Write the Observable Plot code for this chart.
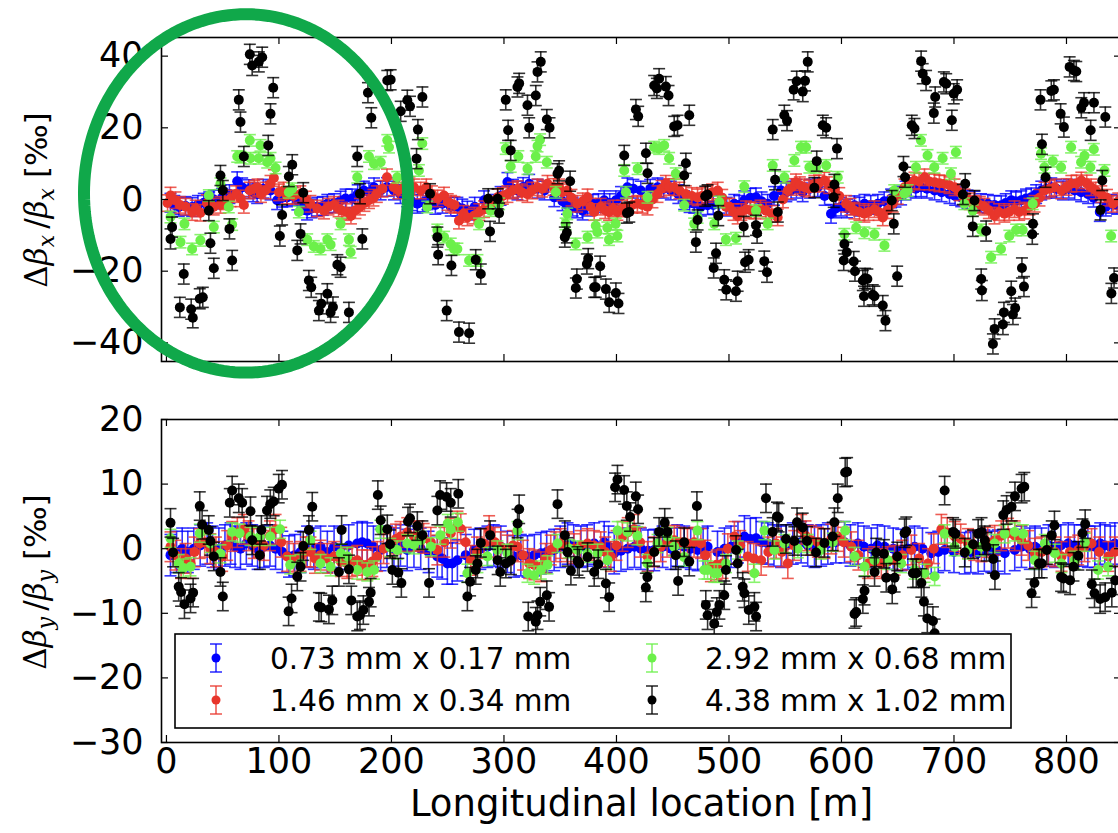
<!DOCTYPE html>
<html><head><meta charset="utf-8">
<script src="https://cdn.jsdelivr.net/npm/d3@7"></script>
<script src="https://cdn.jsdelivr.net/npm/@observablehq/plot@0.6"></script>
<style>
html,body{margin:0;padding:0;background:#fff;overflow:hidden;width:1118px;height:833px;}
#wrap{position:relative;width:1118px;height:833px;overflow:hidden;background:#fff;}
#topPanel,#botPanel{position:absolute;left:0;width:1122px;}
#topPanel{top:0;} #botPanel{top:390px;}
</style></head>
<body><div id="wrap"><div id="topPanel"></div><div id="botPanel"></div></div>
<script>
// ---------- data ----------
const seriesLabels = ["0.73 mm x 0.17 mm", "1.46 mm x 0.34 mm", "2.92 mm x 0.68 mm", "4.38 mm x 1.02 mm"];
const seriesColors = ["#0000ff", "#e8352b", "#6cf04a", "#000000"];
const xTicks = [0, 100, 200, 300, 400, 500, 600, 700, 800];
const yTicksTop = [-40, -20, 0, 20, 40];
const yTicksBottom = [-30, -20, -10, 0, 10, 20];
const errTop = [2.6, 2.3, 1.6, 2.8];      // half-length of error bars (‰), per series
const errBottom = [3.2, 2.3, 1.4, 2.2];

// horizontal plane, [location m, Δβx/βx ‰]
const blueX = [[3.6,-0.9],[7,-1.5],[11,-2.1],[17,-1.8],[22.8,-2.1],[28,-1.5],[33.2,-0.9],[38,-0.5],[42.1,0],[49.5,0.5],[56,1.5],[62.9,5.1],[67.3,3.4],[73.2,2.9],[77,2],[80.6,1.5],[86,3],[92.5,2.5],[98.4,-0.2],[103,0.5],[107.2,0.6],[112,1],[116.3,-0.3],[121,-1.5],[125,-3.1],[129,-2.5],[134,-2],[139,-1.8],[143,-1.2],[149,-1],[154.8,-0.3],[159.2,0.3],[165,0.3],[170,1.5],[175.5,2.5],[180,2],[184.5,3.4],[190.4,2.5],[196,3.5],[202.2,2.5],[208,1.5],[214,0.6],[218,-0.5],[223,-1.2],[228,-0.8],[232,-0.2],[239,-1.5],[245.3,-1.2],[252.7,-2],[258.6,-2],[263,-2.5],[267.5,-3.1],[274,-2],[282.3,-0.2],[291.2,-1.2],[297,1],[303.1,4.9],[308,3],[312,2.5],[317,3.5],[322.4,4.4],[330,3],[336,2.5],[344.7,0.6],[352,-0.5],[356,-1.5],[361,-2],[365,-2.5],[370,-3.1],[374,-2],[379,-1.2],[384,-1],[389.1,-0.2],[394,-1],[399.5,-0.2],[404,1],[409.7,3.4],[415,3],[421.6,2.5],[430,3],[436.5,3.4],[442,3],[448.3,2.5],[455,1.5],[460.2,-0.2],[465,-1],[469.1,-1.2],[475,-2],[481,-1.6],[486,-1.5],[491.4,-1.2],[498,-2],[504.7,-1.2],[509,-1.5],[513.6,-0.2],[519,0.5],[524,0.6],[529,-0.5],[534.4,-1.2],[540,1],[546.3,2.5],[551,2],[555.2,2.5],[560,3],[565.5,2],[572,3],[578.9,3.4],[585,1],[590.7,-4],[595,-2.5],[599.6,-2],[605,-2.5],[611.5,-1.6],[616,-2],[620.4,-1.2],[626,-1.5],[632.3,-1.2],[638,-0.5],[644.1,0.3],[648,0.5],[653,1.1],[657,2.5],[661.9,3.4],[666,3],[670.8,3.4],[676,3],[682.7,2.5],[689,2],[696,1.5],[701,1],[706.4,0.6],[712,0],[718.2,-0.3],[724,-1],[730.1,-1.2],[736,-1.5],[742,-1.6],[746,-1],[750.9,-0.2],[755,-0.5],[759.8,-0.2],[764,0.3],[768.7,0.6],[773,1.5],[777.6,2.5],[782,3],[786.5,3.4],[791,3],[796.9,2.5],[802,3],[807.3,2.5],[813,2],[819.2,1.5],[824,0.5],[829.6,-3.5],[835,-2],[840,-1.2],[845,-1.5]];
const redX = [[1,-1],[3.6,1.1],[8,-0.2],[12,-1.5],[17,-2],[22.8,-3.5],[26,-2.5],[30.2,-3.7],[36,-1],[42,-2],[48,-1.5],[52,-0.5],[57,0.3],[62,1.5],[66,0.3],[68.8,-1.5],[74.1,2.5],[78,3],[81,3.4],[84,1.5],[88,2.5],[92.5,4.4],[95.5,6],[100,2],[104,2.5],[107,1.1],[113,1],[119,1.5],[124,0],[128,-1.2],[134,-2.5],[140,-3.1],[144,-2],[149,-1.5],[153,-2.5],[156,-3.1],[160,-3.5],[164,-4.5],[168,-3],[172,-2],[176,-1],[180,-0.2],[184,0.5],[187,1.5],[192,3],[196,6.2],[202,3.4],[206,2.5],[211,3.4],[216,4],[220,3.4],[226,2.5],[231,3.4],[236,1.5],[241,0.3],[246.7,1.1],[250,-0.7],[253,-1.2],[256,-1.5],[260,-5.9],[264,-4],[267.5,-5],[273.5,-4.5],[278,-3.5],[282.3,-2.7],[288,-1.5],[294.4,0.6],[299,1],[303.1,1.5],[308,2.5],[312,2.9],[316,2],[320.9,1.5],[325,2.5],[329.8,3.4],[334,3],[338.7,4.4],[344,3.5],[349,3.4],[352,2],[356.3,2.5],[360,0.5],[365,-1.2],[370,-0.5],[374.3,0.6],[377,-2],[380.2,-3.5],[386,-2],[390,-3],[393.4,-3.5],[397,-2.5],[400.8,-3.5],[405,-2.5],[409.7,-2],[414,-1.5],[418.6,-1.2],[423,-1.5],[427.6,-2],[432,0],[436.5,1.5],[440,3],[443.9,4.4],[447,3.5],[451.3,3.4],[456,2.5],[461.7,1.5],[467,1],[472.1,0.6],[476,1],[481,1.5],[485,2],[490,2.5],[494,0.5],[497.3,-2],[500.3,-2],[504,-3.5],[507.7,-4.5],[511,-3.5],[515.2,-2.7],[519,-3],[522.6,-3.1],[528,-2.5],[532.9,-3.1],[538,-4],[543.3,-5],[548,0],[552.2,2.5],[556,3.5],[559.6,4.8],[563,4],[567,3.4],[571,3],[575.9,4.4],[580,4.5],[584.8,5.3],[589,4],[593.7,2.9],[598,1],[604.1,-1.2],[608,-2],[611.5,-3.1],[616,-3.5],[620.4,-4],[624,-3.5],[629.3,-2.7],[633,-3.5],[636.7,-5],[641,-3],[645.6,-1.2],[650,1],[656,3.4],[660,4.5],[664.9,5.3],[669,5],[673.8,6.2],[678,5],[682.7,4.8],[687,4.5],[691.6,4.4],[696,4],[700.5,3.4],[705,2],[709.4,0.6],[714,-0.5],[718.2,-1.2],[723,-1.5],[727.1,-2],[731,-3],[736,-4.5],[740,-3.5],[744.9,-4],[749,-3.5],[753.8,-2.7],[758,-3.5],[762.7,-3.1],[767,-2],[771.6,-1.2],[776,0.5],[780.5,2.5],[785,3],[789.4,3.4],[795.4,2.5],[800,3.5],[804.3,4.4],[809,4.5],[813.2,5.3],[818,4.5],[822,3.4],[826,2.5],[830.9,1.5],[836,0.5],[841.3,-1.2],[846,-0.5]];
const greenX = [[3.6,-4.9],[12.5,-11.9],[16,-6.8],[22.8,-13.8],[30.2,-11.4],[37.7,1.1],[42.1,-7.7],[48,4.4],[55.4,-2.1],[58.4,-7],[62.9,12],[65.8,11.8],[74.1,16.5],[74.7,11.5],[82.1,11.5],[83.6,15.1],[89.6,10.4],[92.5,11.5],[97,8.8],[108.8,2],[111.8,3],[117.7,-3.5],[125.1,-11.2],[131,-13.1],[137,-13.8],[143,-11.2],[145.9,-12.6],[154.8,-6.8],[162.2,-11.2],[163.7,-14.7],[169.6,6.2],[180,12],[184.5,10],[190.4,10.4],[196.3,16.5],[197.8,14.6],[205.2,6.2],[224.4,8.1],[227.4,15.6],[231.8,-2.1],[240.8,-8.5],[246.8,-10.5],[252.7,-12.4],[255.6,-13.8],[258.6,-13.8],[269,-17],[276.4,-17],[277.9,-6.8],[288.2,-3.1],[295.7,-1.2],[301.6,14.2],[306,9.2],[312.8,12],[320.9,8.6],[328.3,12],[329.8,14.9],[332.1,16.7],[338.1,10.4],[346.1,2],[354.8,-6.8],[356.3,-4],[363.7,-12.4],[374.3,-10.5],[381.6,-7.3],[383,-9.1],[391.9,-7.9],[393.4,-11.2],[399.3,-6.8],[400.8,-10.2],[406.9,8.1],[408.4,2],[418.8,8.6],[427.6,0.6],[433.5,14.6],[437.9,14.2],[442.4,15.1],[446.8,11.5],[452.7,7.2],[460.2,-1.6],[469.1,-6.8],[472.1,-5],[486.9,-6.8],[491.4,-0.7],[497.3,-11.2],[506.2,-10.8],[513.6,3.6],[524,-3.1],[534.4,-6.8],[538.9,9.5],[549.2,6.2],[558.1,10.9],[564,14.6],[568.5,14.6],[571.5,9],[577.4,9],[586.4,9.5],[596.7,6.2],[602.6,-9.7],[613,-7.9],[620.4,-9.3],[629.3,-9.7],[638.2,-12.8],[646.9,2.5],[655.8,1.6],[658.8,2.5],[666.2,9],[670.6,16.5],[676.5,12.3],[682.5,9],[689.9,11.5],[697.3,7.2],[701.7,13.2],[709.2,-1.2],[716.6,-3.1],[724.1,-8.5],[733,-16.1],[741.8,-13.8],[749.2,-10.2],[755.2,-8.5],[761.1,-8.5],[770,-1.2],[777.4,12.8],[780.4,9],[787.8,10.7],[795.2,9],[804.1,14.6],[813,10.4],[816,12.2],[821.3,9],[824.3,14],[833.8,8.1],[839.7,-10.2]];
const blackX = [[3.6,-11],[5,-7.7],[11.9,-30.1],[15.4,-20.8],[22,-30.6],[23.4,-33],[29.6,-27.7],[32.3,-27.3],[37.7,-3.1],[39.1,-12.2],[42.1,-19.2],[48,6.7],[50.1,2.5],[56,-8.2],[58.4,-17],[64.3,27.8],[65.8,21.6],[68.8,12],[74.1,40.5],[76.2,37.4],[82.1,38.4],[85.1,39.7],[90.5,15.1],[92.5,23.9],[94.9,31.2],[100.8,-10.2],[102.8,-4.3],[108.8,6.4],[111.8,9.7],[116.3,-14.2],[119.2,-9.6],[121.6,1.9],[126.6,-22.6],[128.7,-24.5],[135.5,-31],[137.6,-29.1],[143,-26.3],[145.9,-31.5],[148,-30],[151.9,-18.2],[154.8,-18.9],[162.2,-31.5],[169.6,12],[172,1.6],[174.1,-11],[179.1,29.8],[182.1,22.8],[196.3,33.2],[199.3,33.4],[208.2,24.6],[214.1,27.7],[216.5,26],[222.3,11.4],[223.5,19.5],[227.5,28.6],[234.3,1.6],[240.8,-10.5],[241.5,-15.4],[249.1,-31],[253.3,-18.4],[260,-37],[269,-37.3],[274.9,-16.8],[279.4,-20.8],[286,0.2],[287.6,-8.9],[294.4,0.2],[295.7,-3.8],[301.6,27.8],[303.7,19.3],[306,13.7],[312,31.4],[313.5,32.4],[320.9,26.3],[322.4,20],[328.3,29],[329.8,35.6],[332.7,38.4],[338.1,22.3],[340.5,20],[347.6,7.2],[349,8],[354.1,-10.5],[355.9,-9.3],[358.8,5.1],[363.9,-24.7],[364.8,-22.2],[373.7,-18],[374.9,-16.5],[380.2,-24.5],[381.6,-24.5],[385.5,-18.6],[390.6,-25],[393.5,-28.7],[399.5,-26.1],[401.8,-29],[406.9,12.3],[409.3,-3.8],[411.4,-3.5],[417.3,25.1],[419.3,23.2],[426.2,12.9],[427.6,7.3],[433.5,31.8],[435.9,31],[437.9,33.7],[443.9,31.5],[446.3,29],[451.3,20.4],[454.3,20.7],[460.2,6.7],[461.7,10.1],[464.7,23.5],[470.6,-11.9],[472.1,-5.7],[478.9,0.9],[481,1.3],[486.4,-19.1],[488.5,-15],[490.5,-4.5],[495.8,-22.4],[497.6,-25.2],[506.2,-25.6],[507.7,-22.8],[513.1,-7.5],[514.3,-17.5],[517.5,-16.8],[524,-7.2],[525,-9.4],[531.4,-17.2],[533.8,-20.3],[538.9,19.5],[541,5.5],[543.4,-3.5],[549.2,23.5],[551.6,22],[557.5,30.6],[560.2,33],[565.6,30.1],[567.6,33.1],[570,38.4],[575.9,3.3],[578,10.7],[583.4,20.7],[586.4,20],[593.1,0.6],[593.7,4.2],[596,14.2],[602,-17],[602.6,-12.4],[604.7,-14.7],[610.9,-17.3],[612,-20],[619,-22.6],[620,-27],[621,-22],[623,-22.2],[627.8,-26.6],[629.3,-27],[636.7,-29.6],[639.1,-33.8],[644.7,-0.3],[646.5,-6.8],[649.5,-21.4],[655.1,9.2],[656.5,6.2],[662.5,20.7],[664.9,19.8],[670.8,38.6],[672.2,35.1],[675.2,33.2],[682.1,24.1],[683.3,28.6],[691,32.8],[693.1,32.3],[698.1,22.1],[699.8,29.5],[702.8,30.6],[707.9,1.4],[710,4.4],[716.7,-7.5],[718.2,-0.3],[724.2,-22.2],[724.8,-25.4],[728.6,-8.8],[734.6,-40.3],[736.1,-36.1],[743.5,-34.9],[744.4,-31.5],[750.9,-25.6],[752.4,-32.1],[754.4,-30.3],[760.4,-19.1],[762.2,-24.3],[769.6,-9.7],[770.2,-6.8],[776.9,27.8],[778.2,15.4],[781.4,6.2],[786.5,30.3],[788.8,30.6],[794.8,23.9],[797.7,20.2],[802.8,37],[806.6,36],[808.7,35.7],[813.2,25.6],[815.6,27],[821.5,19.3],[824.4,27],[830.3,-2.9],[831.8,5.3],[834.5,23],[839.9,-26.2],[842.3,-21.9]];

// vertical plane, [location m, Δβy/βy ‰]
const blueY = [[3.6,-1],[9,-0.5],[14,0],[19,-0.5],[24.3,0],[30,0.5],[36.2,0.8],[41,0.3],[46.6,0],[52,0.5],[57,0.8],[61,0.3],[65.8,0],[71,0.8],[76.2,0.5],[81,0],[86.6,0.3],[92,0.5],[97,0],[103,-0.5],[108.9,-1.2],[114,-1],[119.2,-0.5],[125,0.3],[131,0],[137,0.3],[143,-0.5],[149,0.3],[154.8,0],[162,0.5],[169.6,0.8],[174,1],[178.5,0.8],[184,0.3],[190.4,-0.2],[196,0.3],[202.2,0],[208,0.5],[214,-0.2],[220,0.3],[226,0],[233,-0.5],[240.8,-1.2],[245,-1.5],[249.7,-2.3],[254,-2.3],[258.6,-1.8],[266,-1],[273.5,-0.2],[279,0],[285.3,0.3],[291,0.5],[297.2,0.3],[303,-0.5],[309,-1.2],[315,-1],[320.9,-1.2],[327,-1],[332.8,-0.7],[338,-0.5],[344.6,-0.2],[350,0.3],[356.5,0.8],[362,0.5],[368.4,0.3],[374,0.5],[380.2,0.8],[389.1,1],[393,0.3],[398,-0.7],[404,-0.3],[409.9,0],[416,0.3],[421.7,0],[428,-0.3],[433.6,-0.2],[441,0.3],[448.4,0],[454,0.5],[460.2,0.3],[466,0],[472.1,-0.2],[477,0],[481,0.3],[489.8,-0.5],[496,0],[501.8,0.3],[508,1],[513.7,1.9],[519,1.5],[524.1,1.6],[529,1],[534.5,0.8],[540,0.5],[546.3,0.3],[551,0.5],[556.7,0.8],[564.1,1],[570,0.5],[576,0.3],[582,0.5],[587.9,0.8],[595,1],[602.7,1],[608,0.5],[614.6,0.8],[620,0.3],[626.5,0],[632,0.5],[638.3,0.3],[646,0],[653.1,-0.2],[659,0],[665,0.3],[672,0],[679.8,-0.7],[686,-0.5],[691.7,-0.2],[700,-0.5],[709.5,-0.7],[715,-0.5],[721.4,-0.7],[727,-0.3],[733.2,-0.5],[739,-0.3],[745.1,-0.7],[754,-0.2],[760,0.3],[767.4,0],[772,0.3],[777.8,0],[784,0.5],[789.6,0.3],[795,0.5],[801.5,0.8],[807,0.5],[813.4,0.5],[819,0.3],[825.2,0.3],[830,0.8],[834.1,0.5],[839,0.3],[843,0.8]];
const redY = [[3.6,0.3],[8,-1],[13,-2.3],[17,-1.5],[21.4,-2.3],[25,-0.5],[29.6,0.8],[34,1],[39,0],[44,-0.5],[49.5,-1.2],[54,0.5],[58.4,1.9],[63,2.5],[68.8,3],[73,2],[77.6,0.8],[82,1],[86.6,0.5],[92,2],[97,3],[102,1],[107.2,-1.2],[113,-1.5],[119.2,-1.2],[124,-0.5],[128,-0.5],[132,-1.5],[137,-1],[143,-1.5],[149,-1.2],[155,-2],[160.8,-2.3],[165,-2],[169.6,-1.8],[174,-2.5],[178.5,-2.5],[183,-2],[187.3,-1.2],[193,0],[199.2,1],[204,1.5],[208,1.9],[214,2.5],[220,1.9],[224,2],[228.6,1.6],[235,1],[240.8,-0.2],[247,1],[252.7,2.4],[258.6,3.5],[261.6,3.1],[266,1],[270.5,-1.8],[276,-0.5],[282.3,0.8],[286.8,2.8],[292,1],[297,0.3],[303.1,-0.2],[308,0.5],[312,0.3],[317,-1],[322.4,-2.3],[327,-2.5],[332.8,-2.8],[337,-1.5],[341.6,-0.2],[346,0.3],[350.5,0.8],[356,0.3],[362.3,0],[368,0.5],[374.3,0.8],[380,0.5],[386,0.3],[390,-0.5],[395,-1.2],[400,0.5],[405.3,1.9],[410,2.5],[415.7,3],[421,1],[427.6,-1.2],[433,-0.5],[439.4,0.3],[445,1],[451.3,1.3],[457,1],[463.1,0.8],[469,1],[475,0.8],[479,-1],[483.9,-2.8],[489,-2.5],[494.3,-2.3],[499,0],[504.8,1.9],[510,0.5],[516.7,-1.2],[522,-1.5],[528.6,-1.8],[535,-0.5],[541.9,0.8],[547,-0.5],[552.3,-2.3],[558,0.5],[564.2,3],[568,2],[573.1,1.3],[579,1],[584.9,0.8],[591,1.5],[596.8,1.9],[602,1],[608.7,0.3],[615,-1],[623.5,-2.3],[629,-2],[635.4,-2.3],[641,-2],[647.2,-1.8],[654,-1],[662.1,-0.2],[669,-1.5],[676.9,-2.3],[682,0],[688.8,3],[694,2.5],[700.6,1.9],[706,1.5],[712.5,0.8],[718,0.5],[724.4,0.3],[730,1],[736.2,1.3],[742,2],[748.1,2.4],[754,2],[760,1.3],[766,0.5],[771.9,-0.7],[778,-0.5],[783.7,-0.2],[790,-0.5],[795.6,-1.2],[803,-0.5],[810.4,-0.2],[816,0.3],[822.3,0.8],[829,-0.5],[837.2,-1.2],[843,-0.5]];
const greenY = [[3.6,1.6],[10.9,-2.3],[15,-3],[21.4,-2.8],[29.6,2.4],[39,0.8],[48,-0.8],[58.4,2.6],[65,2.4],[74.7,1.9],[83,1.9],[92.3,1.9],[101,3],[110,-2.5],[119,-2.3],[128,1.3],[137,-2.3],[145.9,-2.8],[155,-0.7],[160.7,-1.2],[169.6,-3.3],[178.5,-3.6],[184.5,-3.3],[190,3],[199,0.2],[205,-0.2],[214,0.8],[220,0.6],[226,1.3],[235,0.3],[243.5,2.1],[250,3.9],[252.7,3],[259,4.1],[267.5,-3.8],[276.4,-2.3],[285.3,-1.2],[294.2,-0.2],[303.1,-0.7],[312,2.8],[320.9,-3.8],[326.8,-4.1],[332.8,-3.3],[338.7,-2.5],[347.6,0.8],[358,0],[365.4,-0.2],[374.3,-0.7],[383.2,-0.7],[392.1,-1.8],[401,2.8],[409.7,2.6],[418.6,2],[427.5,-2.3],[436.5,0.8],[445.3,1.9],[451.3,0.3],[460.2,-1.3],[472,2.8],[478.1,-3.3],[481,-3.3],[487,-3.8],[489.8,-3.8],[497.4,-2.3],[507.8,-0.2],[522.6,-3.8],[531.5,2.8],[540.4,-0.2],[549.3,0.8],[561.2,0],[570.1,0.8],[581.9,-0.2],[592.2,1],[603.3,2.8],[611.6,-1.2],[620.5,-2.8],[629.4,-1.8],[641.2,-1.8],[653.1,-2.3],[665,-3.3],[673.9,-3.8],[682.8,-4.3],[691.7,2.3],[700.6,0.3],[712.4,-0.2],[724.3,0.3],[736.1,0.8],[745,2.3],[754,2.6],[761.4,2.3],[771.8,-1.8],[780.7,0.8],[789.6,-0.7],[795.5,-2.3],[807.4,-1.8],[816.3,1],[828.1,-3.3],[837,-2.8]];
const blackY = [[3.6,4],[5.9,-0.6],[10.9,-5.9],[13,-6.7],[16,-8.6],[21.4,-7.7],[23.7,-6.8],[29.6,6.6],[31.7,3.7],[37.6,2.9],[39.1,1.2],[42.1,-1.2],[48,-3.6],[50.1,-7.4],[56.3,7.1],[58.4,9],[64.3,7.8],[67.3,7.1],[74.7,5.8],[76.2,1.3],[83,-1],[84.4,2.9],[89.4,5.9],[92.3,6.9],[95.3,7.3],[99.8,9.3],[102.7,9.9],[108.6,-9.7],[111.2,-7.7],[116.3,-4.3],[119.2,-2.8],[121.6,0.4],[126.6,2.9],[129.6,6.5],[135.5,-9],[137.6,-9.1],[144.4,-9.4],[147.4,-8],[153.3,-3.6],[155.7,2.9],[162.2,-3.2],[164.3,-8],[169.6,-10.5],[172,-10.3],[175,-9.5],[180,-8.2],[181.5,-6.8],[187.9,8.3],[190.4,4.4],[196.3,3],[198.8,0.7],[200.8,-3.3],[206.1,-3.7],[208.8,-5.3],[214.7,4.2],[216.5,4.7],[223,3.5],[227.5,2.1],[233.4,-5.3],[240.8,5.9],[243.2,8.3],[249,8],[252.7,7.1],[259.4,8.5],[267.5,-7.4],[269.9,-5.1],[274.9,-3.3],[276.4,-2.3],[279.4,0.9],[287.7,2.1],[294.4,-1.8],[296.7,-3.6],[301.7,-2.3],[306.2,-1.8],[312.1,3.9],[313.5,6.1],[321.6,-10.5],[328.3,-11.3],[329.8,-10.3],[332.2,-8.2],[338.1,-7.2],[340.1,-9],[347.6,6.9],[354.1,2.1],[356.5,-0.5],[359.5,-3.4],[365.4,-1.9],[366.9,-2.3],[374.3,-1.3],[380.2,-3.6],[383.8,-2.4],[390.6,-5.4],[393.5,-7.5],[398.8,9.5],[400.9,10.7],[406.8,9.1],[409.2,6.6],[412.1,4.9],[417.2,8.1],[419.2,6.1],[426.1,-6],[427.5,-4.4],[433.5,-0.5],[437.9,2.6],[442.9,4],[445.3,2.6],[452.7,-1],[454.8,-5],[460.2,1],[464.7,-2],[471.5,6.6],[479.4,-8.7],[481,-10.3],[486.9,-11.6],[489.2,-9.8],[491.5,-8.7],[495.8,-7.2],[497.3,-3.3],[506.3,-0.2],[507.8,-2.3],[512.2,-5.9],[513.7,-6.9],[517.6,-9.5],[522.6,-9],[524.1,-10.5],[532.9,7.8],[538.8,2.6],[542.7,5],[544.2,4.8],[550.7,1.5],[558.1,1.2],[560.5,4.1],[565.5,3.3],[569.4,1.2],[577.4,-0.6],[584.8,0.9],[592.2,1.9],[593.7,4.1],[596.7,7.8],[603.3,11.8],[605,11.9],[611.6,-10.1],[613.1,-9.8],[619,-7.8],[620.5,-6.5],[629.4,-3.6],[630.9,-0.6],[637.7,-0.8],[639.8,-4.5],[645.1,-6.3],[647.2,-4.5],[649.6,-1.2],[656.1,2.4],[657.6,2.7],[663.5,-3.8],[666.5,-3.8],[671,-5.3],[673.3,-8.2],[676.3,-10.8],[681.3,-11.2],[682.8,-13.1],[691.7,9],[699.2,2.6],[701.2,2.3],[709.6,-0.6],[717,0.7],[721.5,2.3],[724.5,2.6],[727.4,1.3],[728.9,0.3],[734.9,-1.6],[736.4,-4.1],[743.8,5.2],[746.8,6],[751.2,6.5],[754.2,8.1],[760.1,9.3],[762.5,9.6],[769,-6.9],[771.5,-5.3],[775.6,-2.3],[778,-2.3],[782.5,-0.2],[786.9,2.1],[789.3,3.6],[795.2,-4.4],[797.3,-4.6],[803.2,-4.9],[806.2,-2.8],[810.6,-1.1],[814.2,2.4],[816.6,3.8],[822.5,-5.5],[824.9,-6.9],[829.9,-7.8],[834.4,-7.5],[840.3,-6.8],[843.3,-4.9]];

// highlight annotation (ellipse in data units of the upper panel)
const ellipseCenter = [70.7, 1.7];
const ellipseRadii = [144, 50];

// ---------- drawing ----------
const W = 1122, LEFT = 161, RIGHT = 1;
const xDomain = [-4.4, 848.9];
const FONT = "DejaVu Sans, sans-serif";
const capSymbol = {draw(ctx, size) { const r = Math.sqrt(size / Math.PI); ctx.moveTo(-r, 0); ctx.lineTo(r, 0); }};

function seriesMarks(data, color, err) {
  const rows = data.map(([x, y]) => ({x, y, lo: y - err, hi: y + err}));
  const bar = {stroke: color, strokeWidth: 1.6, strokeOpacity: 0.8};
  return [
    Plot.ruleX(rows, {x: "x", y1: "lo", y2: "hi", ...bar}),
    Plot.dot(rows, {x: "x", y: "lo", symbol: capSymbol, r: 6, fill: "none", ...bar}),
    Plot.dot(rows, {x: "x", y: "hi", symbol: capSymbol, r: 6, fill: "none", ...bar}),
    Plot.dot(rows, {x: "x", y: "y", r: 5, fill: color})
  ];
}
const fmt = d => d < 0 ? "\u2212" + Math.abs(d) : String(d);

function frameMarks(yTicks, innerH, innerW, xLabels) {
  const m = [
    Plot.tickX(xTicks, {x: d => d, insetTop: innerH - 7, stroke: "black", strokeWidth: 1.2}),
    Plot.tickX(xTicks, {x: d => d, insetBottom: innerH - 7, stroke: "black", strokeWidth: 1.2}),
    Plot.tickY(yTicks, {y: d => d, insetRight: innerW - 7, stroke: "black", strokeWidth: 1.2}),
    Plot.tickY(yTicks, {y: d => d, insetLeft: innerW - 7, stroke: "black", strokeWidth: 1.2}),
    Plot.frame({stroke: "black", strokeWidth: 1.6}),
    Plot.text(yTicks, {y: d => d, frameAnchor: "left", dx: -18, textAnchor: "end", text: fmt, fontSize: 35, fill: "black"})
  ];
  if (xLabels) {
    m.push(Plot.text(xTicks, {x: d => d, frameAnchor: "bottom", dy: 30, text: d => String(d), fontSize: 35, fill: "black"}));
    m.push(Plot.text(["Longitudinal location [m]"], {frameAnchor: "bottom", dy: 73, text: d => d, fontSize: 37, fill: "black"}));
  }
  return m;
}

const topPlot = Plot.plot({
  width: W, height: 390, marginLeft: LEFT, marginRight: RIGHT, marginTop: 37, marginBottom: 29,
  x: {domain: xDomain, axis: null},
  y: {domain: [-45.2, 45.2], axis: null},
  style: {fontFamily: FONT, maxWidth: "none", background: "white", overflow: "visible"},
  marks: [
    ...seriesMarks(blueX, seriesColors[0], errTop[0]),
    ...seriesMarks(redX, seriesColors[1], errTop[1]),
    ...seriesMarks(greenX, seriesColors[2], errTop[2]),
    ...seriesMarks(blackX, seriesColors[3], errTop[3]),
    ...frameMarks(yTicksTop, 324, W - LEFT - RIGHT, false),
    Plot.line(d3.range(0, 361, 2), {
      x: a => ellipseCenter[0] + ellipseRadii[0] * Math.cos(a * Math.PI / 180),
      y: a => ellipseCenter[1] + ellipseRadii[1] * Math.sin(a * Math.PI / 180),
      stroke: "#10a84a", strokeWidth: 12, curve: "linear"
    })
  ]
});
document.getElementById("topPanel").appendChild(topPlot);

const botPlot = Plot.plot({
  width: W, height: 443, marginLeft: LEFT, marginRight: RIGHT, marginTop: 29, marginBottom: 91,
  x: {domain: xDomain, axis: null},
  y: {domain: [-30, 20], axis: null},
  style: {fontFamily: FONT, maxWidth: "none", background: "white", overflow: "visible"},
  marks: [
    ...seriesMarks(blueY, seriesColors[0], errBottom[0]),
    ...seriesMarks(redY, seriesColors[1], errBottom[1]),
    ...seriesMarks(greenY, seriesColors[2], errBottom[2]),
    ...seriesMarks(blackY, seriesColors[3], errBottom[3]),
    ...frameMarks(yTicksBottom, 323, W - LEFT - RIGHT, true)
  ]
});
document.getElementById("botPanel").appendChild(botPlot);

// y-axis titles (math-style text)
function yLabel(svg, cx, cy, sub) {
  const t = d3.select(svg).append("text")
    .attr("transform", `translate(${cx},${cy}) rotate(-90)`)
    .attr("text-anchor", "middle").attr("font-size", 31).attr("fill", "black");
  const serif = "DejaVu Serif, serif";
  t.append("tspan").attr("font-family", serif).text("\u0394");
  t.append("tspan").attr("font-family", serif).attr("font-style", "italic").text("\u03b2");
  t.append("tspan").attr("font-family", serif).attr("font-style", "italic").attr("font-size", 22).attr("dy", 7).text(sub);
  t.append("tspan").attr("font-family", serif).attr("dy", -7).text("\u2009/");
  t.append("tspan").attr("font-family", serif).attr("font-style", "italic").text("\u03b2");
  t.append("tspan").attr("font-family", serif).attr("font-style", "italic").attr("font-size", 22).attr("dy", 7).text(sub);
  t.append("tspan").attr("font-family", FONT).attr("dy", -7).text(" [\u2030]");
}
yLabel(topPlot, 47, 200, "x");
yLabel(botPlot, 46, 192, "y");

// legend (inside lower panel)
const lg = d3.select(botPlot).append("g");
lg.append("rect").attr("x", 175).attr("y", 244).attr("width", 836).attr("height", 94)
  .attr("fill", "white").attr("stroke", "black").attr("stroke-width", 1.6);
const legendPos = [[216, 268, 270], [216, 310, 270], [652, 268, 705], [652, 310, 705]];
seriesLabels.forEach((label, i) => {
  const [mx, my, tx] = legendPos[i];
  const c = seriesColors[i];
  const g = lg.append("g");
  g.append("line").attr("x1", mx).attr("x2", mx).attr("y1", my - 14).attr("y2", my + 14).attr("stroke", c).attr("stroke-width", 1.6).attr("stroke-opacity", 0.8);
  g.append("line").attr("x1", mx - 6).attr("x2", mx + 6).attr("y1", my - 14).attr("y2", my - 14).attr("stroke", c).attr("stroke-width", 1.6).attr("stroke-opacity", 0.8);
  g.append("line").attr("x1", mx - 6).attr("x2", mx + 6).attr("y1", my + 14).attr("y2", my + 14).attr("stroke", c).attr("stroke-width", 1.6).attr("stroke-opacity", 0.8);
  g.append("circle").attr("cx", mx).attr("cy", my).attr("r", 4.5).attr("fill", c);
  g.append("text").attr("x", tx).attr("y", my).attr("dy", "0.36em").attr("font-size", 29.5)
    .attr("text-anchor", "start").attr("font-family", FONT).attr("fill", "black").text(label);
});
</script>
</body></html>
